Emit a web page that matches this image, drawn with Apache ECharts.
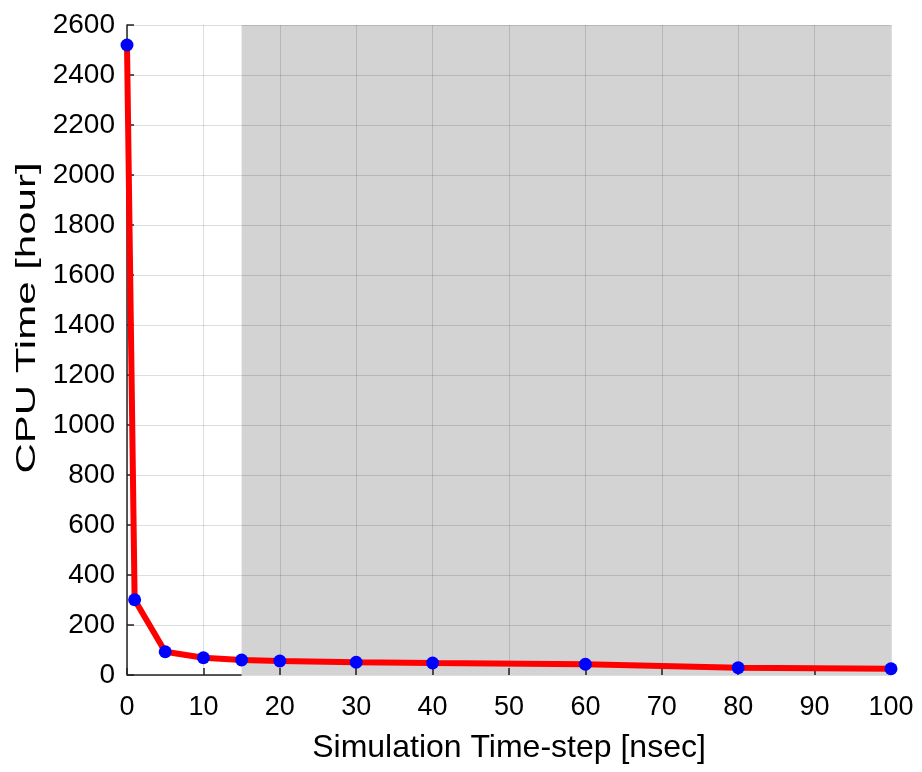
<!DOCTYPE html>
<html>
<head>
<meta charset="utf-8">
<script src="https://cdn.jsdelivr.net/npm/echarts@6/dist/echarts.min.js"></script>
<style>html,body{margin:0;padding:0;background:#fff}#c{width:922px;height:772px}</style>
</head>
<body>
<div id="c"></div>
<script>
const timeSteps = [0, 1, 5, 10, 15, 20, 30, 40, 60, 80, 100];
const cpuHours = [2520, 301, 93, 69, 60, 56, 51, 48, 43, 29, 25];
const shadedRange = [15, 100];
const xTitle = 'Simulation Time-step [nsec]';
const yTitle = 'CPU Time [hour]';

const chart = echarts.init(document.getElementById('c'), null, {renderer: 'canvas'});
const font = 'Liberation Sans, Arial, sans-serif';
const gridColor = 'rgba(0,0,0,0.13)';
chart.setOption({
  animation: false,
  backgroundColor: '#fff',
  grid: {left: 127, right: 31, top: 25, bottom: 97, containLabel: false},
  graphic: [{
    type: 'text',
    x: 27, y: 318,
    rotation: Math.PI / 2,
    scaleX: 1.5,
    style: {text: yTitle, font: '28px ' + font, fill: '#000', align: 'center', verticalAlign: 'middle'}
  }],
  xAxis: {
    type: 'value', min: 0, max: 100, interval: 10, z: 3,
    name: xTitle, nameLocation: 'middle', nameGap: 57,
    nameTextStyle: {fontFamily: font, fontSize: 32, color: '#000'},
    axisLine: {show: false},
    axisTick: {show: true, inside: true, length: 7, lineStyle: {color: '#222', width: 1.5}},
    axisLabel: {fontFamily: font, fontSize: 27, color: '#000', margin: 19},
    splitLine: {show: true, lineStyle: {color: gridColor, width: 1}}
  },
  yAxis: {
    type: 'value', min: 0, max: 2600, interval: 200, z: 3,
    axisLine: {show: true, lineStyle: {color: '#222', width: 1.5}},
    axisTick: {show: true, inside: true, length: 7, lineStyle: {color: '#222', width: 1.5}},
    axisLabel: {fontFamily: font, fontSize: 28, color: '#000', margin: 12, formatter: v => String(v)},
    splitLine: {show: true, lineStyle: {color: gridColor, width: 1}}
  },
  series: [
    {
      type: 'line', data: [], z: 1, silent: true,
      markArea: {
        silent: true, z: 1,
        itemStyle: {color: '#d3d3d3'},
        data: [[{xAxis: shadedRange[0]}, {xAxis: shadedRange[1]}]]
      }
    },
    {
      type: 'line',
      data: timeSteps.map((x, i) => [x, cpuHours[i]]),
      lineStyle: {color: '#ff0000', width: 6},
      symbol: 'circle', symbolSize: 13,
      itemStyle: {color: '#0000ff', borderWidth: 0},
      z: 5,
      markLine: {
        silent: true, symbol: 'none', label: {show: false}, z: 4,
        lineStyle: {color: '#222', width: 1.5, type: 'solid'},
        data: [[{coord: [0, 0]}, {coord: [shadedRange[0], 0]}]]
      }
    }
  ]
});
</script>
</body>
</html>
